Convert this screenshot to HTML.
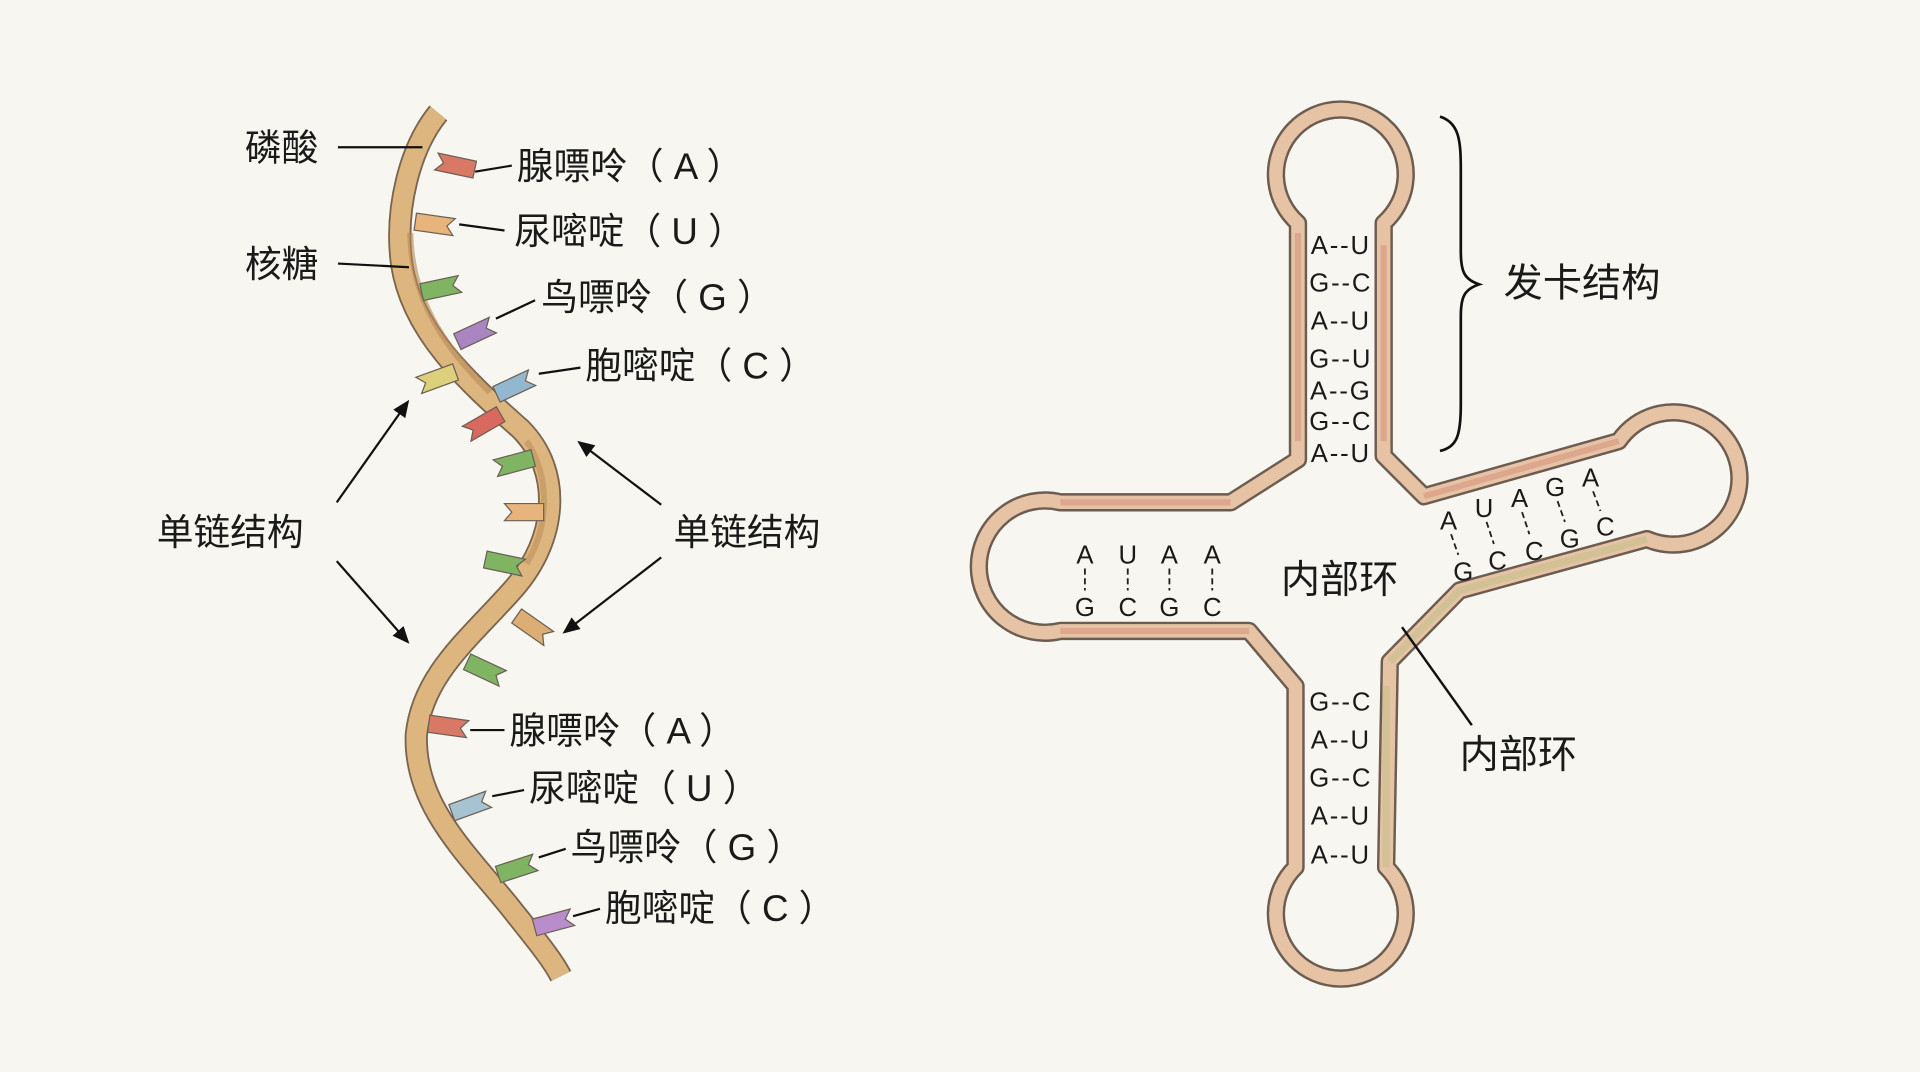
<!DOCTYPE html>
<html><head><meta charset="utf-8">
<style>
html,body{margin:0;padding:0;background:#f7f6f0;}
svg{display:block;}
text{font-family:"Liberation Sans","Noto Sans CJK SC",sans-serif;fill:#1a1a1a;}
</style></head>
<body>
<svg width="1920" height="1072" viewBox="0 0 1568 875" xmlns="http://www.w3.org/2000/svg">
<defs>
<marker id="ah" markerWidth="14" markerHeight="12" refX="12" refY="6" orient="auto" markerUnits="userSpaceOnUse">
<path d="M0,0 L14,6 L0,12 Z" fill="#111"/>
</marker>
<polygon id="flag" points="-16,-7 16,-7 16,7 -16,7 -10,0" stroke="#6b6055" stroke-width="1"/>
</defs>
<rect width="1568" height="875" fill="#f7f6f0"/>

<!-- helix strand -->
<path d="M358,92 C335,120 322,170 328,215 C336,270 380,310 425,350 C460,385 455,440 420,480 C385,520 345,550 340,600 C338,660 385,700 420,745 C440,770 452,785 458,797" fill="none" stroke="#7a6550" stroke-width="19"/>
<path d="M358,92 C335,120 322,170 328,215 C336,270 380,310 425,350 C460,385 455,440 420,480 C385,520 345,550 340,600 C338,660 385,700 420,745 C440,770 452,785 458,797" fill="none" stroke="#dcb57f" stroke-width="16"/>
<path d="M335,190 C336,250 370,290 400,320" fill="none" stroke="#b88a55" stroke-width="5" opacity="0.6"/>
<path d="M430,360 C450,390 448,430 430,460" fill="none" stroke="#b88a55" stroke-width="5" opacity="0.5"/>

<!-- bases -->
<g fill="#d97865"><use href="#flag" transform="translate(372,135) rotate(12)"/></g>
<g fill="#e8b47c"><use href="#flag" transform="translate(355,183) rotate(8) scale(-1,1)"/></g>
<g fill="#7fb463"><use href="#flag" transform="translate(360,235) rotate(-12) scale(-1,1)"/></g>
<g fill="#a985c2"><use href="#flag" transform="translate(388,272) rotate(-25) scale(-1,1)"/></g>
<g fill="#dcd07c"><use href="#flag" transform="translate(357,309) rotate(-20)"/></g>
<g fill="#94b7d0"><use href="#flag" transform="translate(420,315) rotate(-25) scale(-1,1)"/></g>
<g fill="#d9685f"><use href="#flag" transform="translate(395,346) rotate(-30)"/></g>
<g fill="#7fb463"><use href="#flag" transform="translate(420,378) rotate(-15)"/></g>
<g fill="#e8b47c"><use href="#flag" transform="translate(428,418) rotate(0)"/></g>
<g fill="#7fb463"><use href="#flag" transform="translate(412,460) rotate(12) scale(-1,1)"/></g>
<g fill="#dcae74"><use href="#flag" transform="translate(435,512) rotate(35) scale(-1,1)"/></g>
<g fill="#7fb463"><use href="#flag" transform="translate(396,547) rotate(25) scale(-1,1)"/></g>
<g fill="#d97865"><use href="#flag" transform="translate(366,593) rotate(8) scale(-1,1)"/></g>
<g fill="#a7c3d2"><use href="#flag" transform="translate(384,658) rotate(-20) scale(-1,1)"/></g>
<g fill="#7fb463"><use href="#flag" transform="translate(422,709) rotate(-18) scale(-1,1)"/></g>
<g fill="#b98ccb"><use href="#flag" transform="translate(452,753) rotate(-15) scale(-1,1)"/></g>

<!-- left labels -->
<g stroke="#111" stroke-width="1.8" fill="none">
<line x1="276" y1="120" x2="345" y2="120"/>
<line x1="276" y1="215" x2="334" y2="218"/>
<line x1="388" y1="140" x2="418" y2="135"/>
<line x1="375" y1="183" x2="412" y2="188"/>
<line x1="405" y1="260" x2="437" y2="245"/>
<line x1="440" y1="305" x2="474" y2="300"/>
<line x1="384" y1="596" x2="412" y2="596"/>
<line x1="402" y1="650" x2="428" y2="645"/>
<line x1="440" y1="700" x2="462" y2="693"/>
<line x1="468" y1="748" x2="490" y2="742"/>
<line x1="275" y1="410" x2="333" y2="328" marker-end="url(#ah)"/>
<line x1="275" y1="458" x2="333" y2="524" marker-end="url(#ah)"/>
<line x1="540" y1="412" x2="473" y2="361" marker-end="url(#ah)"/>
<line x1="540" y1="455" x2="461" y2="516" marker-end="url(#ah)"/>
</g>
<g font-size="30">
<text x="200" y="131">磷酸</text>
<text x="200" y="226">核糖</text>
<text x="422" y="146">腺嘌呤（ A ）</text>
<text x="420" y="199">尿嘧啶（ U ）</text>
<text x="442" y="253">鸟嘌呤（ G ）</text>
<text x="478" y="309">胞嘧啶（ C ）</text>
<text x="416" y="607">腺嘌呤（ A ）</text>
<text x="432" y="654">尿嘧啶（ U ）</text>
<text x="466" y="702">鸟嘌呤（ G ）</text>
<text x="494" y="752">胞嘧啶（ C ）</text>
<text x="128" y="445">单链结构</text>
<text x="550" y="445">单链结构</text>
</g>

<!-- tRNA -->
<path d="M1060,375 L1060,182 A53,53 0 1 1 1130,182 L1130,372 L1163,405 L1322,360 A54,54 0 1 1 1345,440 L1192,482 L1135,540 L1132,708 A53,53 0 1 1 1058,708 L1058,560 L1020,515 L866,515 A54,54 0 1 1 866,410 L1005,410 Z" fill="none" stroke="#6d5c50" stroke-width="15" stroke-linejoin="round"/>
<path d="M1060,375 L1060,182 A53,53 0 1 1 1130,182 L1130,372 L1163,405 L1322,360 A54,54 0 1 1 1345,440 L1192,482 L1135,540 L1132,708 A53,53 0 1 1 1058,708 L1058,560 L1020,515 L866,515 A54,54 0 1 1 866,410 L1005,410 Z" fill="none" stroke="#e6c3a5" stroke-width="11" stroke-linejoin="round"/>
<path d="M1060,360 L1060,190 M1005,410 L866,410 M866,515 L1020,515 M1163,405 L1322,360 M1130,200 L1130,360" fill="none" stroke="#d68f7c" stroke-width="5" opacity="0.55"/>
<path d="M1345,440 L1192,482 L1135,540 M1132,560 L1132,708" fill="none" stroke="#c9c08e" stroke-width="6" opacity="0.7"/>

<g font-size="21" text-anchor="middle" letter-spacing="1.5">
<text x="1095" y="207">A--U</text>
<text x="1095" y="238">G--C</text>
<text x="1095" y="269">A--U</text>
<text x="1095" y="300">G--U</text>
<text x="1095" y="326">A--G</text>
<text x="1095" y="351">G--C</text>
<text x="1095" y="377">A--U</text>
<text x="1095" y="580">G--C</text>
<text x="1095" y="611">A--U</text>
<text x="1095" y="642">G--C</text>
<text x="1095" y="673">A--U</text>
<text x="1095" y="705">A--U</text>
</g>
<g font-size="21" text-anchor="middle">
<text x="886" y="460">A</text><text x="921" y="460">U</text><text x="955" y="460">A</text><text x="990" y="460">A</text>
<text x="886" y="503">G</text><text x="921" y="503">C</text><text x="955" y="503">G</text><text x="990" y="503">C</text>
<text x="1183" y="432">A</text><text x="1212" y="422">U</text><text x="1241" y="414">A</text><text x="1270" y="405">G</text><text x="1299" y="397">A</text>
<text x="1195" y="474">G</text><text x="1223" y="465">C</text><text x="1253" y="457">C</text><text x="1282" y="447">G</text><text x="1311" y="437">C</text>
</g>
<g stroke="#222" stroke-width="1.5" stroke-dasharray="5,3" fill="none">
<line x1="886" y1="464" x2="886" y2="482"/><line x1="921" y1="464" x2="921" y2="482"/><line x1="955" y1="464" x2="955" y2="482"/><line x1="990" y1="464" x2="990" y2="482"/>
<line x1="1185" y1="436" x2="1191" y2="453"/><line x1="1214" y1="426" x2="1220" y2="444"/><line x1="1243" y1="418" x2="1249" y2="436"/><line x1="1272" y1="409" x2="1278" y2="426"/><line x1="1301" y1="401" x2="1307" y2="417"/>
</g>
<g font-size="32">
<text x="1046" y="484">内部环</text>
<text x="1192" y="627">内部环</text>
<text x="1228" y="242">发卡结构</text>
</g>
<line x1="1145" y1="512" x2="1202" y2="592" stroke="#111" stroke-width="2"/>
<path d="M1176,95 C1192,100 1193,115 1193,140 L1193,205 C1193,222 1196,228 1208,232 C1196,236 1193,242 1193,258 L1193,330 C1193,355 1190,365 1176,368" fill="none" stroke="#111" stroke-width="2.2"/>
</svg>
</body></html>
